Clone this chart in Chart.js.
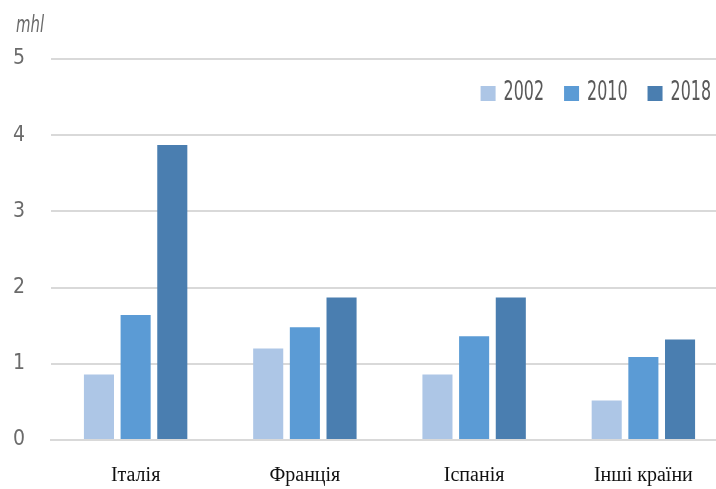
<!DOCTYPE html>
<html>
<head>
<meta charset="utf-8">
<script src="https://cdn.jsdelivr.net/npm/chart.js@4/dist/chart.umd.min.js"></script>
<style>
  html, body { margin: 0; padding: 0; background: #fff; overflow: hidden; }
  #wrap { width: 728px; height: 489px; }
</style>
</head>
<body>
<div id="wrap"><canvas id="chart" width="728" height="489"></canvas></div>
<script>
const categories = ['Італія', 'Франція', 'Іспанія', 'Інші країни'];
const years = ['2002', '2010', '2018'];
const values2002 = [0.86, 1.20, 0.86, 0.52];
const values2010 = [1.64, 1.48, 1.36, 1.09];
const values2018 = [3.87, 1.87, 1.87, 1.32];
const yTicks = [0, 1, 2, 3, 4, 5];
const unitLabel = 'mhl';

const colors = ['#adc6e6', '#5b9bd5', '#4a7eb0'];
const narrow = "'Liberation Sans Narrow', 'DejaVu Sans Condensed', sans-serif";

// condensed text helper: squeeze horizontally like the original font
function squeezed(ctx, text, x, y, sx) {
    ctx.save();
    ctx.translate(x, y);
    ctx.scale(sx, 1);
    ctx.fillText(text, 0, 0);
    ctx.restore();
    return ctx.measureText(text).width * sx;
}

// legend + unit label drawn inside the plot, like the original
const overlay = {
    id: 'overlay',
    afterDraw(chart) {
        const ctx = chart.ctx;
        const sx = 0.68;
        ctx.save();
        ctx.fillStyle = '#6b6b6b';
        ctx.font = "italic 23px " + narrow;
        ctx.textBaseline = 'alphabetic';
        squeezed(ctx, unitLabel, 16, 32, 0.72);

        ctx.font = "26px " + narrow;
        ctx.textBaseline = 'middle';
        let x = 711;
        const y = 93;
        for (let i = chart.data.datasets.length - 1; i >= 0; i--) {
            const ds = chart.data.datasets[i];
            const w = ctx.measureText(ds.label).width * sx;
            x -= w;
            ctx.fillStyle = '#595959';
            squeezed(ctx, ds.label, x, y, sx);
            x -= 8 + 15;
            ctx.fillStyle = ds.backgroundColor;
            ctx.fillRect(x, y - 7, 15, 15);
            x -= 20;
        }
        ctx.restore();
    }
};

new Chart(document.getElementById('chart'), {
    type: 'bar',
    data: {
        labels: categories,
        datasets: [
            { label: years[0], data: values2002, backgroundColor: colors[0] },
            { label: years[1], data: values2010, backgroundColor: colors[1] },
            { label: years[2], data: values2018, backgroundColor: colors[2] }
        ]
    },
    options: {
        responsive: false,
        animation: false,
        layout: { padding: { left: 13, top: 59, right: 0, bottom: 0 } },
        datasets: { bar: { categoryPercentage: 0.65, barPercentage: 0.82 } },
        plugins: { legend: { display: false }, tooltip: { enabled: false } },
        scales: {
            x: {
                afterFit(axis) { axis.height = 49; },
                grid: { display: false, drawTicks: false },
                border: { color: '#d9d9d9', width: 2 },
                ticks: {
                    color: '#111',
                    font: { family: "'Liberation Serif', 'DejaVu Serif', serif", size: 20 },
                    padding: 24
                }
            },
            y: {
                min: 0,
                max: 5,
                afterBuildTicks(axis) { axis.ticks = yTicks.map(v => ({ value: v })); },
                afterFit(axis) { axis.width = 38; },
                grid: { color: '#d9d9d9', lineWidth: 2, drawTicks: false },
                border: { display: false },
                ticks: {
                    color: '#6b6b6b',
                    crossAlign: 'far',
                    padding: 0,
                    font: { family: narrow, size: 21 }
                }
            }
        }
    },
    plugins: [overlay]
});
</script>
</body>
</html>
